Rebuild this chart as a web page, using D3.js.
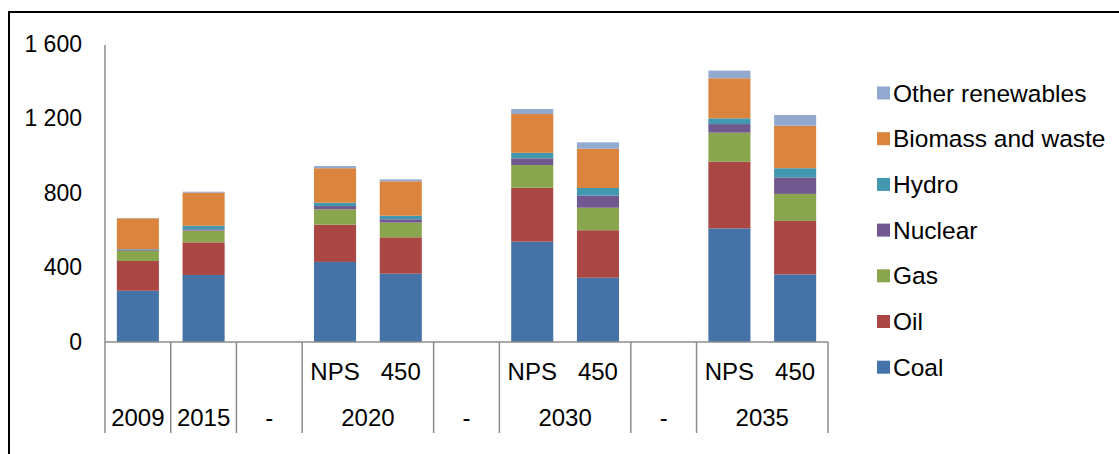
<!DOCTYPE html>
<html>
<head>
<meta charset="utf-8">
<script src="https://cdn.jsdelivr.net/npm/d3@7"></script>
<style>
  html, body { margin: 0; padding: 0; background: #fff; }
  svg { display: block; font-family: "Liberation Sans", Arial, sans-serif; }
</style>
</head>
<body>
<svg id="chart" width="1119" height="454"></svg>
<script>
// ---- data ----
const slots = ["2009", "2015", "gap1", "2020 NPS", "2020 450", "gap2", "2030 NPS", "2030 450", "gap3", "2035 NPS", "2035 450"];
const scenarioLabels = ["", "", "", "NPS", "450", "", "NPS", "450", "", "NPS", "450"];
const groupLabels = ["2009", "2015", "-", "2020", "-", "2030", "-", "2035"];
const groupSizes = [1, 1, 1, 2, 1, 2, 1, 2];
const seriesNames = ["Coal", "Oil", "Gas", "Nuclear", "Hydro", "Biomass and waste", "Other renewables"];
const coal     = [275, 360, 0, 430, 367, 0, 539, 345, 0, 610, 363];
const oil      = [160, 175, 0, 200, 195, 0, 289, 255, 0, 358, 287];
const gas      = [54, 63, 0, 82, 79, 0, 122, 121, 0, 156, 145];
const nuclear  = [4, 7, 0, 18, 18, 0, 36, 65, 0, 46, 89];
const hydro    = [5, 19, 0, 18, 19, 0, 30, 41, 0, 31, 49];
const biomass  = [166, 178, 0, 185, 185, 0, 208, 211, 0, 215, 228];
const otherRen = [2, 5, 0, 12, 10, 0, 27, 34, 0, 41, 58];
const yTicks = [0, 400, 800, 1200, 1600];
const colors = ["#4572A7", "#AA4643", "#89A54E", "#71588F", "#4198AF", "#DB843D", "#93A9CF"];

// ---- build table ----
const seriesValues = [coal, oil, gas, nuclear, hydro, biomass, otherRen];
const table = slots.map((s, i) => {
  const row = { slot: s };
  seriesNames.forEach((n, k) => row[n] = seriesValues[k][i]);
  return row;
});
const stacked = d3.stack().keys(seriesNames)(table);

const svg = d3.select("#chart");
const tickFont = 23;
const catFont = 24;
const legendFont = 24.5;

// outer frame (top & left)
svg.append("line").attr("x1", 9).attr("x2", 1119).attr("y1", 12).attr("y2", 12)
  .attr("stroke", "#000").attr("stroke-width", 2);
svg.append("line").attr("x1", 9).attr("x2", 9).attr("y1", 11).attr("y2", 454)
  .attr("stroke", "#000").attr("stroke-width", 2);

const x = d3.scaleBand().domain(slots).range([105, 828]).paddingInner(0.36).paddingOuter(0.18);
const y = d3.scaleLinear().domain([0, 1600]).range([342, 44]);
const axisBottomY = 433;
const axisColor = "#8c8c8c";

// bars
const color = d3.scaleOrdinal().domain(seriesNames).range(colors);
svg.append("g").selectAll("g").data(stacked).join("g")
  .attr("fill", d => color(d.key))
  .selectAll("rect").data(d => d.filter(p => p[1] - p[0] > 0)).join("rect")
  .attr("x", d => x(d.data.slot))
  .attr("width", x.bandwidth())
  .attr("y", d => y(d[1]))
  .attr("height", d => y(d[0]) - y(d[1]));

// y axis
const loc = d3.formatLocale({ decimal: ".", thousands: " ", grouping: [3], currency: ["", ""] });
const fmt = loc.format(",d");
const yAxis = svg.append("g").attr("transform", "translate(105,0)")
  .call(d3.axisLeft(y).tickValues(yTicks).tickFormat(fmt).tickSize(0).tickPadding(23));
yAxis.select(".domain").remove();
yAxis.selectAll("text").attr("font-size", tickFont).attr("font-family", "Liberation Sans, Arial, sans-serif").attr("fill", "#000");
svg.append("line").attr("x1", 105).attr("x2", 105).attr("y1", y(1600) + 1).attr("y2", axisBottomY)
  .attr("stroke", axisColor).attr("stroke-width", 1.5);

// x axis line
svg.append("line").attr("x1", 105).attr("x2", 828).attr("y1", y(0)).attr("y2", y(0))
  .attr("stroke", axisColor).attr("stroke-width", 1.5);

// group separators and labels
const step = x.step();
let idx = 0;
const xStart = 105;
groupLabels.forEach((g, gi) => {
  const x0 = xStart + idx * step;
  const x1 = xStart + (idx + groupSizes[gi]) * step;
  svg.append("line").attr("x1", x1).attr("x2", x1).attr("y1", y(0)).attr("y2", axisBottomY)
    .attr("stroke", axisColor).attr("stroke-width", 1.5);
  svg.append("text").attr("x", (x0 + x1) / 2).attr("y", 417)
    .attr("text-anchor", "middle").attr("dominant-baseline", "central")
    .attr("font-size", catFont).attr("fill", "#000").text(g);
  idx += groupSizes[gi];
});

// scenario labels
svg.append("g").selectAll("text").data(slots.filter((s, i) => scenarioLabels[i] !== ""))
  .join("text")
  .attr("x", s => x(s) + x.bandwidth() / 2)
  .attr("y", 371)
  .attr("text-anchor", "middle").attr("dominant-baseline", "central")
  .attr("font-size", catFont).attr("fill", "#000")
  .text(s => scenarioLabels[slots.indexOf(s)]);

// legend
const legendNames = seriesNames.slice().reverse();
const lg = svg.append("g").selectAll("g").data(legendNames).join("g")
  .attr("transform", (d, i) => `translate(877, ${93 + i * 45.7})`);
lg.append("rect").attr("x", 0).attr("y", -6.5).attr("width", 13).attr("height", 13)
  .attr("fill", d => color(d));
lg.append("text").attr("x", 16).attr("y", 0).attr("dominant-baseline", "central")
  .attr("font-size", legendFont).attr("fill", "#000").text(d => d);
</script>
</body>
</html>
